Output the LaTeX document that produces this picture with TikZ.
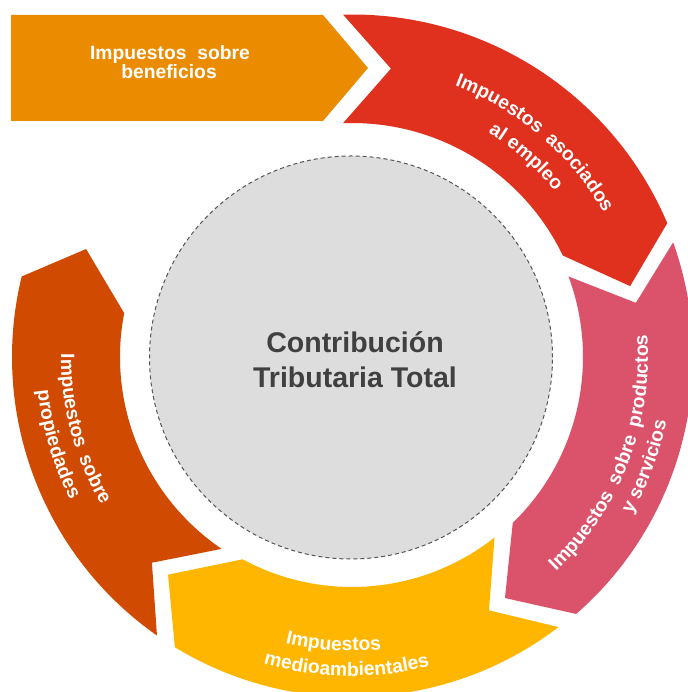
\documentclass[tikz,border=0pt]{standalone}
\usepackage{fontspec}
\setmainfont{Liberation Sans}
\usetikzlibrary{decorations.text}
\definecolor{cBen}{HTML}{EB8C00}
\definecolor{cRed}{HTML}{E0301E}
\definecolor{cPink}{HTML}{DB536A}
\definecolor{cYel}{HTML}{FFB600}
\definecolor{cProp}{HTML}{D04A02}
\definecolor{cCirc}{HTML}{DDDDDD}
\definecolor{cEdge}{HTML}{555555}
\definecolor{cTxt}{HTML}{404040}
\newcommand\segf{\fontsize{19.3}{19.3}\selectfont\bfseries}
% clockwise arc text: centre angle, radius, text, half span
\newcommand\cwtext[4]{%
  \path[decorate,decoration={text along path,text align=center,text color=white,text={|\segf|#3}}]
    ({#1+#4}:#2pt) arc[start angle={#1+#4},end angle={#1-#4},radius=#2pt];}
% counter-clockwise arc text
\newcommand\ccwtext[4]{%
  \path[decorate,decoration={text along path,text align=center,text color=white,text={|\segf|#3}}]
    ({#1-#4}:#2pt) arc[start angle={#1-#4},end angle={#1+#4},radius=#2pt];}
\tikzset{
  core/.style={circle,fill=cCirc,draw=cEdge,line width=1pt,dash pattern=on 4pt off 3pt,inner sep=0pt,minimum size=403pt},
  coretext/.style={anchor=base,text=cTxt,font=\fontsize{28.5}{34}\selectfont\bfseries,inner sep=0pt},
  bentext/.style={anchor=base,text=white,font=\segf,inner sep=0pt}
}
\begin{document}
\begin{tikzpicture}[x=1pt,y=1pt]
\useasboundingbox (0,0) rectangle (687,692);
% top straight arrow
\fill[cBen] (11,677) -- (323,677) -- (368,624) -- (323,571) -- (11,571) -- cycle;
\node[bentext] (ben1) at (170,632) {Impuestos\ \ sobre};
\node[bentext] (ben2) at (169,613) {beneficios};
% centre circle
\node[core] (core) at (351,334.5) {};
\node[coretext] (ct1) at (355,339) {Contribución};
\node[coretext] (ct2) at (355,304) {Tributaria Total};
\begin{scope}[shift={(352,335)}]
% red
\fill[cRed] (91.5:342.5pt) arc[start angle=91.5,end angle=23,radius=342.5pt]
  -- (14.3:287pt) -- (25.7:234pt) arc[start angle=25.7,end angle=92.2,radius=234pt]
  -- (82.3:291pt) -- cycle;
% pink
\fill[cPink] (19.65:341pt) arc[start angle=19.65,end angle=-48.9,radius=341pt]
  -- (-57.6:285.5pt) -- (-45.9:231pt) arc[start angle=-45.9,end angle=20.4,radius=231pt]
  -- (10.8:289pt) -- cycle;
% yellow
\fill[cYel] (-52.6:340pt) arc[start angle=-52.6,end angle=-121.4,radius=340pt]
  -- (-130.2:285pt) -- (-118.4:230pt) arc[start angle=-118.4,end angle=-51.7,radius=230pt]
  -- (-61.6:288pt) -- cycle;
% dark orange
\fill[cProp] (-125:340pt) arc[start angle=-125,end angle=-193.7,radius=340pt]
  -- (-202.1:287pt) -- (-190.9:232pt) arc[start angle=-190.9,end angle=-124.2,radius=232pt]
  -- (-134.2:287pt) -- cycle;
% texts
\cwtext{59.7}{290}{Impuestos}{30}
\cwtext{39.07}{290}{asociados}{30}
\cwtext{49}{262}{al empleo}{30}
\ccwtext{-37.05}{296}{Impuestos}{30}
\ccwtext{-20.8}{296}{sobre}{30}
\ccwtext{-4.75}{296}{productos}{30}
\ccwtext{-20.5}{321}{y servicios}{30}
\ccwtext{-93.7}{294}{Impuestos}{30}
\ccwtext{-91}{319}{medioambientales}{30}
\ccwtext{188.9}{291}{Impuestos}{30}
\ccwtext{205.4}{291}{sobre}{30}
\ccwtext{196.5}{316}{propiedades}{30}
\end{scope}
\end{tikzpicture}
\end{document}
